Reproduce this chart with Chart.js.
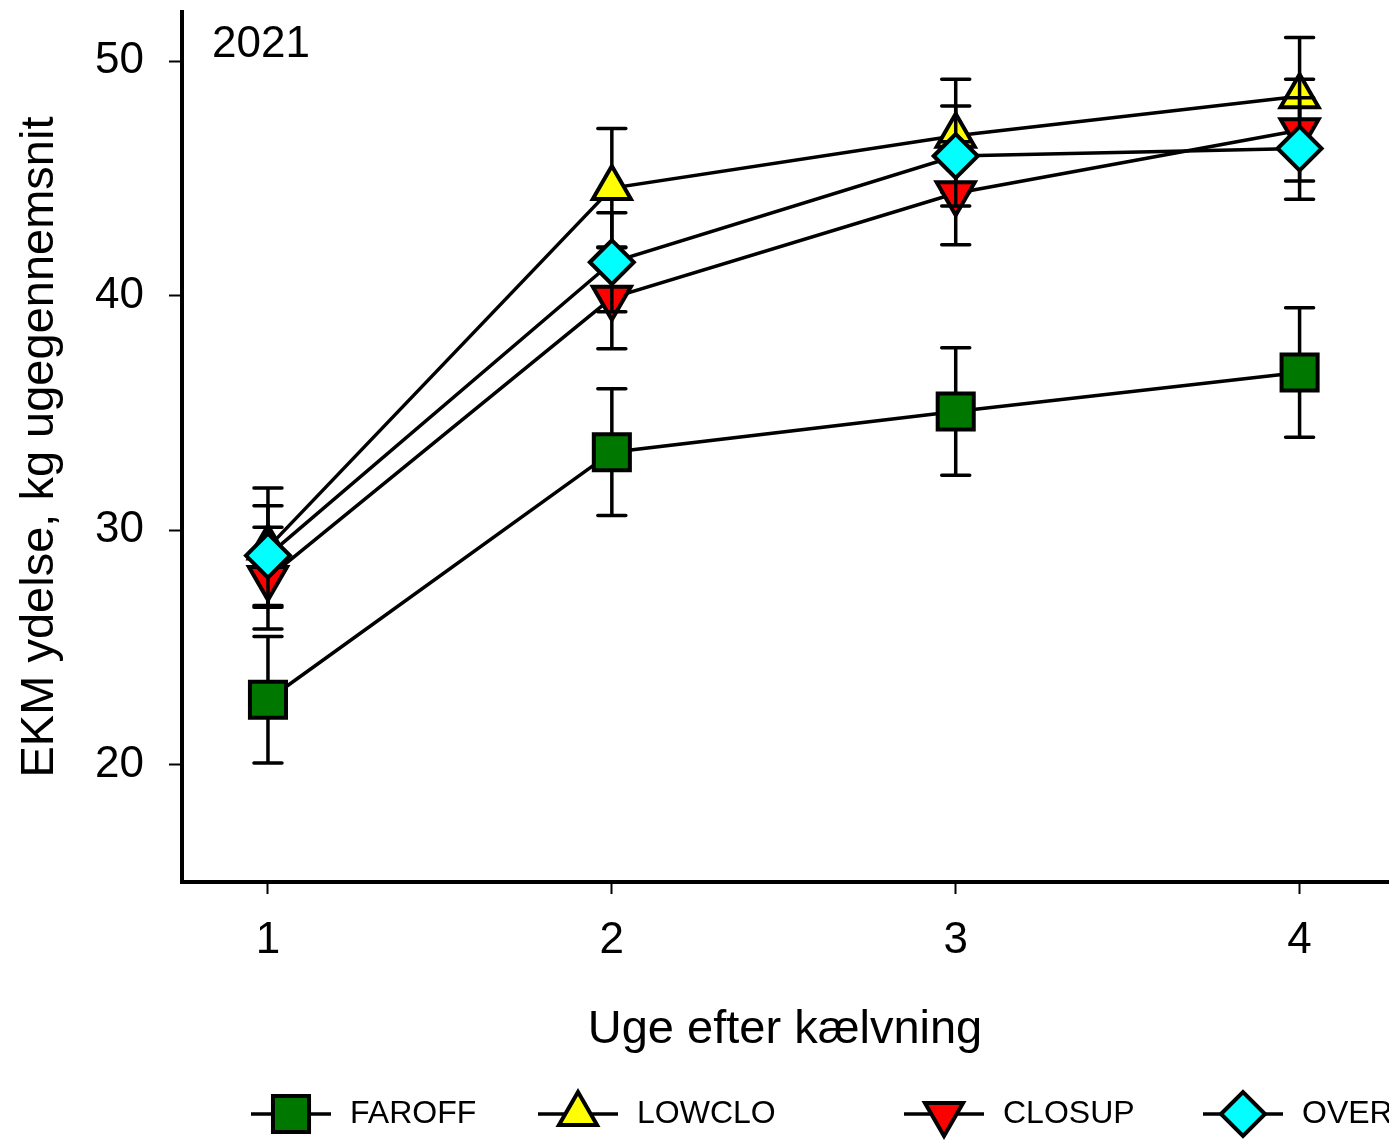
<!DOCTYPE html>
<html>

<head>
  <meta charset="utf-8">
  <title>EKM ydelse 2021</title>
  <style type="text/css">
    body {
      margin: 0;
      padding: 0;
      background-color: #FFF;
    }

    canvas {
      display: block;
    }
  </style>
</head>

<body>
  <canvas id="ekmGrafik" width="1389" height="1141"></canvas>

  <script src="https://cdn.jsdelivr.net/npm/chart.js"></script>

  <script>
    // Uger efter kælvning
    var uger = [1, 2, 3, 4];
    var yTicks = [20, 30, 40, 50];

    // Gennemsnit og fejlsøjler pr. gruppe
    var faroff = [22.77, 33.33, 35.06, 36.73];
    var faroffErr = [2.70, 2.70, 2.72, 2.76];
    var lowclo = [29.26, 44.59, 46.82, 48.51];
    var lowcloErr = [2.54, 2.54, 2.41, 2.50];
    var closup = [27.96, 39.91, 44.37, 47.06];
    var closupErr = [2.17, 2.17, 2.20, 2.17];
    var over = [28.92, 41.43, 45.96, 46.28];
    var overErr = [2.13, 2.11, 2.13, 2.16];

    var fontFam = "'Liberation Sans', Arial, sans-serif";

    function punkter(values) {
      return uger.map(function (u, i) { return { x: u, y: values[i] }; });
    }

    function serie(label, values, errs, farve, style, radius, rotation, order) {
      return {
        label: label,
        data: punkter(values),
        errs: errs,
        borderColor: '#000',
        borderWidth: 3.5,
        pointStyle: style,
        pointRadius: radius,
        pointHoverRadius: radius,
        pointRotation: rotation,
        pointBackgroundColor: farve,
        pointBorderColor: '#000',
        pointBorderWidth: 4,
        fill: false,
        tension: 0,
        order: order
      };
    }

    // Fejlsøjler tegnes lige før hver serie, så symbolerne ligger ovenpå
    var fejlsojler = {
      id: 'fejlsojler',
      beforeDatasetDraw: function (chart, args) {
        var ds = chart.data.datasets[args.index];
        var ys = chart.scales.y;
        var ctx = chart.ctx;
        ctx.save();
        ctx.strokeStyle = '#000';
        ctx.lineWidth = 3.5;
        ctx.lineCap = 'round';
        args.meta.data.forEach(function (pt, i) {
          var v = ds.data[i].y;
          var e = ds.errs[i];
          var top = ys.getPixelForValue(v + e);
          var bot = ys.getPixelForValue(v - e);
          ctx.beginPath();
          ctx.moveTo(pt.x, top);
          ctx.lineTo(pt.x, bot);
          ctx.moveTo(pt.x - 14, top);
          ctx.lineTo(pt.x + 14, top);
          ctx.moveTo(pt.x - 14, bot);
          ctx.lineTo(pt.x + 14, bot);
          ctx.stroke();
        });
        ctx.restore();
      }
    };

    // Aksetitler, årstal og signaturforklaring
    var tekster = {
      id: 'tekster',
      afterDraw: function (chart) {
        var ctx = chart.ctx;
        ctx.save();
        ctx.fillStyle = '#000';

        ctx.font = '44px ' + fontFam;
        ctx.textAlign = 'left';
        ctx.textBaseline = 'alphabetic';
        ctx.fillText('2021', 212, 57);

        ctx.font = '47px ' + fontFam;
        ctx.textAlign = 'center';
        ctx.fillText('Uge efter kælvning', 785, 1043);

        ctx.save();
        ctx.translate(53, 447);
        ctx.rotate(-Math.PI / 2);
        ctx.fillText('EKM ydelse, kg ugegennemsnit', 0, 0);
        ctx.restore();

        var pos = [291, 578, 944, 1243];
        var ly = 1114;
        chart.data.datasets.forEach(function (ds, k) {
          var cx = pos[k];
          ctx.strokeStyle = '#000';
          ctx.lineWidth = 3.5;
          ctx.beginPath();
          ctx.moveTo(cx - 40, ly);
          ctx.lineTo(cx + 40, ly);
          ctx.stroke();
          ctx.fillStyle = ds.pointBackgroundColor;
          ctx.lineWidth = ds.pointBorderWidth;
          Chart.helpers.drawPoint(ctx, {
            pointStyle: ds.pointStyle,
            radius: ds.pointRadius,
            rotation: ds.pointRotation,
            borderWidth: ds.pointBorderWidth
          }, cx, ly);
          ctx.fillStyle = '#000';
          ctx.font = '32px ' + fontFam;
          ctx.textAlign = 'left';
          ctx.textBaseline = 'middle';
          ctx.fillText(ds.label, cx + 59, ly);
        });
        ctx.restore();
      }
    };

    var grafik = document.getElementById('ekmGrafik').getContext('2d');

    var EkmGrafik = new Chart(grafik, {
      type: 'line',
      data: {
        datasets: [
          serie('FAROFF', faroff, faroffErr, '#007800', 'rect', 25.5, 0, 3),
          serie('LOWCLO', lowclo, lowcloErr, '#FFFF00', 'triangle', 22, 0, 2),
          serie('CLOSUP', closup, closupErr, '#FF0000', 'triangle', 22, 180, 1),
          serie('OVER', over, overErr, '#00FFFF', 'rectRot', 22, 0, 0)
        ]
      },
      options: {
        responsive: false,
        animation: false,
        layout: {
          autoPadding: false,
          padding: { top: 12, left: 0, right: 0, bottom: 0 }
        },
        plugins: {
          legend: { display: false },
          tooltip: { enabled: false }
        },
        scales: {
          x: {
            type: 'linear',
            min: 0.75,
            max: 4.26,
            afterBuildTicks: function (scale) {
              scale.ticks = uger.map(function (u) { return { value: u }; });
            },
            afterFit: function (scale) {
              scale.height = 259;
              scale.paddingLeft = 0;
              scale.paddingRight = 0;
            },
            grid: {
              display: true,
              drawOnChartArea: false,
              drawTicks: true,
              tickLength: 12,
              tickWidth: 2,
              tickColor: '#000'
            },
            border: { display: true, color: '#000', width: 4 },
            ticks: {
              color: '#000',
              padding: 20,
              maxRotation: 0,
              font: { size: 44, family: fontFam },
              callback: function (v) { return v; }
            }
          },
          y: {
            min: 15,
            max: 52.1,
            afterBuildTicks: function (scale) {
              scale.ticks = yTicks.map(function (t) { return { value: t }; });
            },
            afterFit: function (scale) {
              scale.width = 182;
              scale.paddingTop = 0;
              scale.paddingBottom = 0;
            },
            grid: {
              display: true,
              drawOnChartArea: false,
              drawTicks: true,
              tickLength: 13,
              tickWidth: 2,
              tickColor: '#000'
            },
            border: { display: true, color: '#000', width: 4 },
            ticks: {
              color: '#000',
              padding: 25,
              font: { size: 44, family: fontFam },
              callback: function (v) { return v; }
            }
          }
        }
      },
      plugins: [fejlsojler, tekster]
    });
  </script>

</body>

</html>
